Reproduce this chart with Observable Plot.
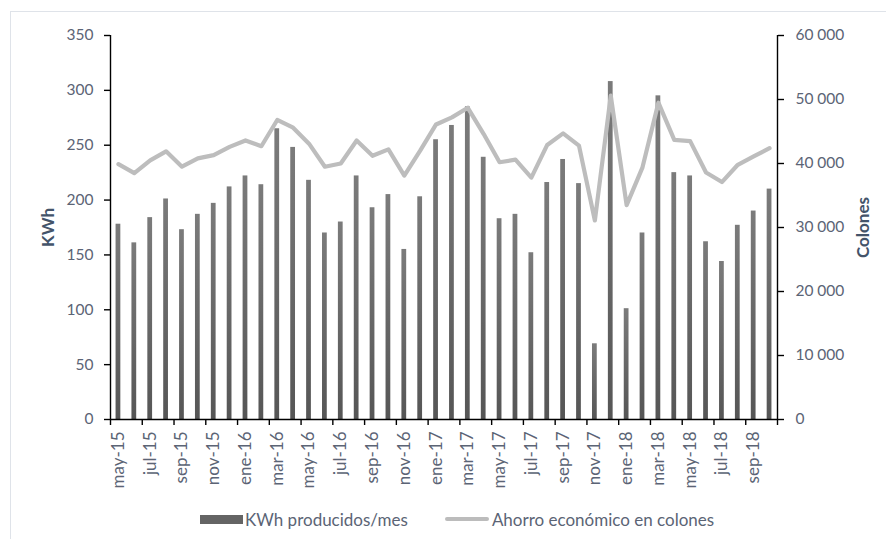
<!DOCTYPE html>
<html>
<head>
<meta charset="utf-8">
<script src="https://cdn.jsdelivr.net/npm/d3@7"></script>
<script src="https://cdn.jsdelivr.net/npm/@observablehq/plot@0.6"></script>
<style>
  body { margin: 0; background: #fff; font-family: Lato, "Open Sans", sans-serif; }
  #wrap { position: relative; width: 886px; height: 539px; overflow: hidden; background: #fff; }
  #border { position: absolute; left: 10px; top: 11px; width: 1000px; height: 700px;
            border-left: 1.5px solid #dfe3e9; border-top: 1.5px solid #dfe3e9; }
  #chart { position: absolute; left: 0; top: 0; }
  #legend { position: absolute; left: 200px; top: 500px; height: 38px; display: flex; align-items: center;
            font-size: 17px; color: #5b6475; white-space: nowrap; }
  .sw-bar { display: inline-block; width: 43px; height: 9px; background: #646464; margin-right: 2px; }
  .sw-line { display: inline-block; width: 44px; height: 4px; border-radius: 2px; background: #bcbcbc; margin-left: 37px; margin-right: 3px; }
</style>
</head>
<body>
<div id="wrap">
  <div id="border"></div>
  <div id="chart"></div>
  <div id="legend"></div>
</div>
<script>
const months = ["may-15","jun-15","jul-15","ago-15","sep-15","oct-15","nov-15","dic-15",
  "ene-16","feb-16","mar-16","abr-16","may-16","jun-16","jul-16","ago-16","sep-16","oct-16","nov-16","dic-16",
  "ene-17","feb-17","mar-17","abr-17","may-17","jun-17","jul-17","ago-17","sep-17","oct-17","nov-17","dic-17",
  "ene-18","feb-18","mar-18","abr-18","may-18","jun-18","jul-18","ago-18","sep-18","oct-18"];
const kwh = [178,161,184,201,173,187,197,212,222,214,265,248,218,170,180,222,193,205,155,203,
  255,268,285,239,183,187,152,216,237,215,69,308,101,170,295,225,222,162,144,177,190,210];
const colones = [39900,38500,40500,41900,39500,40800,41300,42600,43600,42700,46800,45600,43100,39500,40000,43600,41200,42200,38100,42000,
  46100,47200,48700,44600,40200,40600,37800,42900,44700,42800,31100,50600,33500,39400,49500,43700,43500,38600,37100,39800,41100,42400];
const kwhTicks = [0,50,100,150,200,250,300,350];
const colonesTicks = [0,10000,20000,30000,40000,50000,60000];
const labelMonths = months.filter((m, i) => i % 2 === 0);
const seriesNames = ["KWh producidos/mes", "Ahorro económico en colones"];
const axisTitles = ["KWh", "Colones"];

const W = 886, H = 500, mL = 110, mR = 109, mT = 35, mB = 81;
const step = (W - mL - mR) / months.length;
const k = 350 / 60000;
const data = months.map((m, i) => ({m, kwh: kwh[i], col: colones[i]}));
const fmt = v => d3.format(",")(Math.round(v)).replace(/,/g, "\u202F");
const textColor = "#5b6475";

const defs = () => {
  const svg = d3.create("svg:defs");
  const g = svg.append("linearGradient").attr("id", "bargrad").attr("x1", 0).attr("y1", 0).attr("x2", 0).attr("y2", 1);
  g.append("stop").attr("offset", "0%").attr("stop-color", "#7b7b7b");
  g.append("stop").attr("offset", "100%").attr("stop-color", "#565656");
  return svg.node();
};

const chart = Plot.plot({
  width: W, height: H,
  marginLeft: mL, marginRight: mR, marginTop: mT, marginBottom: mB,
  style: {fontFamily: "Lato, sans-serif", fontSize: "15px", color: textColor, background: "transparent"},
  x: {type: "band", domain: months, paddingInner: 0.7, paddingOuter: 0.35, axis: null},
  y: {domain: [0, 350], axis: null},
  marks: [
    defs,
    Plot.barY(data, {x: "m", y: "kwh", fill: "url(#bargrad)"}),
    Plot.lineY(data, {x: "m", y: d => d.col * k, stroke: "#bdbdbd", strokeWidth: 4.2, strokeLinejoin: "round", strokeLinecap: "round"}),
    Plot.ruleY([0], {stroke: "#000", strokeWidth: 1.4}),
    Plot.ruleX([months[0]], {dx: -step / 2, y1: 0, y2: 350, stroke: "#000", strokeWidth: 1.4}),
    Plot.ruleX([months[months.length - 1]], {dx: step / 2, y1: 0, y2: 350, stroke: "#000", strokeWidth: 1.4}),
    Plot.axisY(kwhTicks, {anchor: "left", tickSize: 6, tickPadding: 11, stroke: "#000", fill: textColor, label: null, strokeWidth: 1.4, fontSize: 15.5}),
    Plot.axisY(colonesTicks.map(v => v * k), {anchor: "right", tickSize: 6, tickPadding: 12, stroke: "#000", fill: textColor, label: null, strokeWidth: 1.4, fontSize: 15.5, tickFormat: d => fmt(d / k)}),
    Plot.axisX(labelMonths, {anchor: "bottom", tickSize: 6, tickFormat: () => "", dx: -step / 2, stroke: "#000", strokeWidth: 1.4, label: null}),
    Plot.axisX([months[months.length - 1]], {anchor: "bottom", tickSize: 6, tickFormat: () => "", dx: step / 2, stroke: "#000", strokeWidth: 1.4, label: null}),
    Plot.axisX(labelMonths, {anchor: "bottom", tickSize: 0, tickPadding: 12, tickRotate: -90, fill: textColor, label: null, fontSize: 17}),
    Plot.text([axisTitles[0]], {frameAnchor: "left", textAnchor: "middle", dx: -62, rotate: -90, fontWeight: "bold", fill: "#44546a", fontSize: 17}),
    Plot.text([axisTitles[1]], {frameAnchor: "right", textAnchor: "middle", dx: 86, rotate: -90, fontWeight: "bold", fill: "#44546a", fontSize: 17})
  ]
});
document.getElementById("chart").appendChild(chart);

const legend = document.getElementById("legend");
legend.innerHTML = `<span class="sw-bar"></span><span>${seriesNames[0]}</span><span class="sw-line"></span><span>${seriesNames[1]}</span>`;
</script>
</body>
</html>
